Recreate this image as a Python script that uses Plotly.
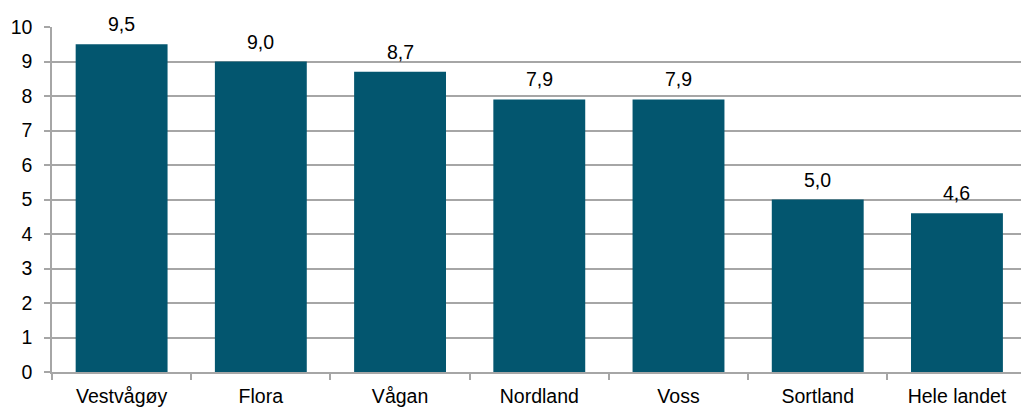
import plotly.graph_objects as go

# Kommuner og verdier
kommuner = ["Vestvågøy", "Flora", "Vågan", "Nordland", "Voss", "Sortland", "Hele landet"]
verdier = [9.5, 9.0, 8.7, 7.9, 7.9, 5.0, 4.6]
y_ticks = list(range(0, 11))

bar_color = "#03566f"
grid_color = "#a6a6a6"
font_family = "Liberation Sans, Arial, sans-serif"
font_size = 19.5

fig = go.Figure()
fig.add_trace(go.Bar(
    x=kommuner,
    y=verdier,
    marker=dict(color=bar_color, line=dict(width=0)),
    hoverinfo="skip",
))

# Verdietiketter over søylene
for k, v in zip(kommuner, verdier):
    fig.add_annotation(
        x=k, y=v, text=f"{v:.1f}".replace(".", ","),
        showarrow=False, yanchor="bottom", yshift=7,
        font=dict(family=font_family, size=font_size, color="#000000"),
    )

fig.update_layout(
    width=1021, height=409,
    margin=dict(l=52, r=0, t=27, b=37),
    paper_bgcolor="white", plot_bgcolor="white",
    bargap=0.34,
    showlegend=False,
    font=dict(family=font_family, size=font_size, color="#000000"),
    separators=", ",
)
fig.update_xaxes(
    type="category",
    range=[-0.5, 6.46],
    showline=True, linecolor=grid_color, linewidth=1.5,
    ticks="outside", tickson="boundaries", ticklen=6, tickcolor=grid_color, tickwidth=1.5,
    ticklabelstandoff=6,
    showgrid=False,
    tickfont=dict(size=font_size),
)
fig.update_yaxes(
    range=[0, 10],
    tickvals=y_ticks,
    showline=True, linecolor=grid_color, linewidth=1.5,
    ticks="outside", ticklen=6, tickcolor=grid_color, tickwidth=1.5,
    ticklabelstandoff=8,
    showgrid=True, gridcolor=grid_color, gridwidth=1.5,
    zeroline=False,
    tickfont=dict(size=font_size),
)

fig.write_html("out.html")
